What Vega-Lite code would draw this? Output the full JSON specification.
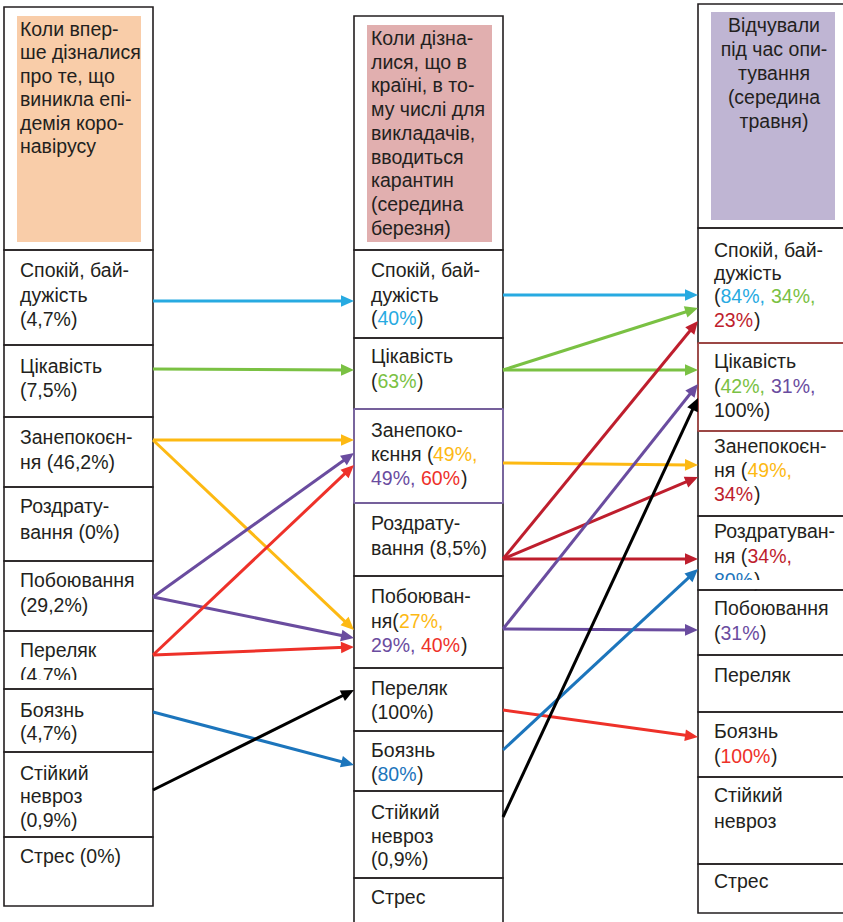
{
  "$schema": "https://vega.github.io/schema/vega-lite/v6.json",
  "width": 843,
  "height": 922,
  "padding": 0,
  "autosize": {"type": "none"},
  "background": "white",
  "config": {"view": {"stroke": null}, "axis": {"disable": true}, "legend": {"disable": true}},
  "datasets": {
    "boxes": [
      {"stage": "Вперше", "row": "header", "x": 4, "x2": 153, "y": 7, "y2": 250},
      {"stage": "Вперше", "row": "Спокій", "x": 4, "x2": 153, "y": 250, "y2": 345},
      {"stage": "Вперше", "row": "Цікавість", "x": 4, "x2": 153, "y": 345, "y2": 417},
      {"stage": "Вперше", "row": "Занепокоєння", "x": 4, "x2": 153, "y": 417, "y2": 487},
      {"stage": "Вперше", "row": "Роздратування", "x": 4, "x2": 153, "y": 487, "y2": 561},
      {"stage": "Вперше", "row": "Побоювання", "x": 4, "x2": 153, "y": 561, "y2": 631},
      {"stage": "Вперше", "row": "Переляк", "x": 4, "x2": 153, "y": 631, "y2": 689},
      {"stage": "Вперше", "row": "Боязнь", "x": 4, "x2": 153, "y": 689, "y2": 752},
      {"stage": "Вперше", "row": "Стійкий невроз", "x": 4, "x2": 153, "y": 752, "y2": 837},
      {"stage": "Вперше", "row": "Стрес", "x": 4, "x2": 153, "y": 837, "y2": 906},
      {"stage": "Березень", "row": "header", "x": 354, "x2": 503, "y": 16, "y2": 250},
      {"stage": "Березень", "row": "Спокій", "x": 354, "x2": 503, "y": 250, "y2": 338},
      {"stage": "Березень", "row": "Цікавість", "x": 354, "x2": 503, "y": 338, "y2": 409},
      {"stage": "Березень", "row": "Занепокоєння", "x": 354, "x2": 503, "y": 409, "y2": 503},
      {"stage": "Березень", "row": "Роздратування", "x": 354, "x2": 503, "y": 503, "y2": 576},
      {"stage": "Березень", "row": "Побоювання", "x": 354, "x2": 503, "y": 576, "y2": 668},
      {"stage": "Березень", "row": "Переляк", "x": 354, "x2": 503, "y": 668, "y2": 731},
      {"stage": "Березень", "row": "Боязнь", "x": 354, "x2": 503, "y": 731, "y2": 791},
      {"stage": "Березень", "row": "Стійкий невроз", "x": 354, "x2": 503, "y": 791, "y2": 878},
      {"stage": "Березень", "row": "Стрес", "x": 354, "x2": 503, "y": 878, "y2": 935},
      {"stage": "Травень", "row": "header", "x": 698, "x2": 860, "y": 4, "y2": 228},
      {"stage": "Травень", "row": "Спокій", "x": 698, "x2": 860, "y": 228, "y2": 343},
      {"stage": "Травень", "row": "Цікавість", "x": 698, "x2": 860, "y": 343, "y2": 431},
      {"stage": "Травень", "row": "Занепокоєння", "x": 698, "x2": 860, "y": 431, "y2": 516},
      {"stage": "Травень", "row": "Роздратування", "x": 698, "x2": 860, "y": 516, "y2": 590},
      {"stage": "Травень", "row": "Побоювання", "x": 698, "x2": 860, "y": 590, "y2": 655},
      {"stage": "Травень", "row": "Переляк", "x": 698, "x2": 860, "y": 655, "y2": 712},
      {"stage": "Травень", "row": "Боязнь", "x": 698, "x2": 860, "y": 712, "y2": 777},
      {"stage": "Травень", "row": "Стійкий невроз", "x": 698, "x2": 860, "y": 777, "y2": 864},
      {"stage": "Травень", "row": "Стрес", "x": 698, "x2": 860, "y": 864, "y2": 913}
    ],
    "headers": [
      {"stage": "Вперше", "x": 17, "x2": 141, "y": 16, "y2": 242},
      {"stage": "Березень", "x": 367, "x2": 492, "y": 25, "y2": 242},
      {"stage": "Травень", "x": 711, "x2": 835, "y": 12, "y2": 220}
    ],
    "highlights": [
      {"stage": "Березень", "row": "Занепокоєння", "x": 354, "x2": 503, "y": 409, "y2": 503},
      {"stage": "Травень", "row": "Цікавість", "x": 698, "x2": 860, "y": 343, "y2": 431}
    ],
    "masks": [
      {"stage": "Вперше", "row": "Переляк", "x": 7, "x2": 150, "y": 680, "y2": 688},
      {"stage": "Травень", "row": "Роздратування", "x": 701, "x2": 860, "y": 580, "y2": 589}
    ],
    "arrows": [
      {"src": "Спокій", "x": 153, "y": 301, "x2": 354, "y2": 301},
      {"src": "Цікавість", "x": 153, "y": 369, "x2": 354, "y2": 370},
      {"src": "Занепокоєння", "x": 153, "y": 440, "x2": 354, "y2": 440},
      {"src": "Занепокоєння", "x": 153, "y": 440, "x2": 354, "y2": 630},
      {"src": "Побоювання", "x": 153, "y": 597, "x2": 354, "y2": 453},
      {"src": "Побоювання", "x": 153, "y": 597, "x2": 354, "y2": 638},
      {"src": "Переляк", "x": 153, "y": 655, "x2": 354, "y2": 465},
      {"src": "Переляк", "x": 153, "y": 655, "x2": 354, "y2": 647},
      {"src": "Боязнь", "x": 153, "y": 712, "x2": 354, "y2": 765},
      {"src": "Стійкий невроз", "x": 153, "y": 790, "x2": 354, "y2": 690},
      {"src": "Спокій", "x": 503, "y": 295, "x2": 698, "y2": 295},
      {"src": "Цікавість", "x": 503, "y": 370, "x2": 698, "y2": 308},
      {"src": "Цікавість", "x": 503, "y": 370, "x2": 698, "y2": 370},
      {"src": "Занепокоєння", "x": 503, "y": 463, "x2": 698, "y2": 465},
      {"src": "Роздратування", "x": 503, "y": 559, "x2": 698, "y2": 321},
      {"src": "Роздратування", "x": 503, "y": 559, "x2": 698, "y2": 477},
      {"src": "Роздратування", "x": 503, "y": 559, "x2": 698, "y2": 559},
      {"src": "Побоювання", "x": 503, "y": 629, "x2": 698, "y2": 384},
      {"src": "Побоювання", "x": 503, "y": 629, "x2": 698, "y2": 630},
      {"src": "Переляк", "x": 503, "y": 710, "x2": 698, "y2": 737},
      {"src": "Боязнь", "x": 503, "y": 750, "x2": 698, "y2": 569},
      {"src": "Стійкий невроз", "x": 503, "y": 817, "x2": 698, "y2": 398}
    ],
    "texts": [
      {"part": "body", "x": 20, "y": 36, "t": "Коли впер-", "src": "text"},
      {"part": "body", "x": 20, "y": 59, "t": "ше дізналися", "src": "text"},
      {"part": "body", "x": 20, "y": 83, "t": "про те, що", "src": "text"},
      {"part": "body", "x": 20, "y": 106, "t": "виникла епі-", "src": "text"},
      {"part": "body", "x": 20, "y": 130, "t": "демія коро-", "src": "text"},
      {"part": "body", "x": 20, "y": 153, "t": "навірусу", "src": "text"},
      {"part": "body", "x": 20, "y": 277, "t": "Спокій, бай-", "src": "text"},
      {"part": "body", "x": 20, "y": 302, "t": "дужість", "src": "text"},
      {"part": "body", "x": 20, "y": 326, "t": "(4,7%)", "src": "text"},
      {"part": "body", "x": 20, "y": 373, "t": "Цікавість", "src": "text"},
      {"part": "body", "x": 20, "y": 397, "t": "(7,5%)", "src": "text"},
      {"part": "body", "x": 20, "y": 444, "t": "Занепокоєн-", "src": "text"},
      {"part": "body", "x": 20, "y": 469, "t": "ня (46,2%)", "src": "text"},
      {"part": "body", "x": 20, "y": 513, "t": "Роздрату-", "src": "text"},
      {"part": "body", "x": 20, "y": 539, "t": "вання (0%)", "src": "text"},
      {"part": "body", "x": 20, "y": 587, "t": "Побоювання", "src": "text"},
      {"part": "body", "x": 20, "y": 612, "t": "(29,2%)", "src": "text"},
      {"part": "body", "x": 20, "y": 657, "t": "Переляк", "src": "text"},
      {"part": "body", "x": 20, "y": 682, "t": "(4,7%)", "src": "text"},
      {"part": "body", "x": 20, "y": 717, "t": "Боязнь", "src": "text"},
      {"part": "body", "x": 20, "y": 740, "t": "(4,7%)", "src": "text"},
      {"part": "body", "x": 20, "y": 780, "t": "Стійкий", "src": "text"},
      {"part": "body", "x": 20, "y": 803, "t": "невроз", "src": "text"},
      {"part": "body", "x": 20, "y": 827, "t": "(0,9%)", "src": "text"},
      {"part": "body", "x": 20, "y": 863, "t": "Стрес (0%)", "src": "text"},

      {"part": "body", "x": 371, "y": 45, "t": "Коли дізна-", "src": "text"},
      {"part": "body", "x": 371, "y": 69, "t": "лися, що в", "src": "text"},
      {"part": "body", "x": 371, "y": 92, "t": "країні, в то-", "src": "text"},
      {"part": "body", "x": 371, "y": 116, "t": "му числі для", "src": "text"},
      {"part": "body", "x": 371, "y": 140, "t": "викладачів,", "src": "text"},
      {"part": "body", "x": 371, "y": 164, "t": "вводиться", "src": "text"},
      {"part": "body", "x": 371, "y": 187, "t": "карантин", "src": "text"},
      {"part": "body", "x": 371, "y": 211, "t": "(середина", "src": "text"},
      {"part": "body", "x": 371, "y": 235, "t": "березня)", "src": "text"},
      {"part": "body", "x": 371, "y": 277, "t": "Спокій, бай-", "src": "text"},
      {"part": "body", "x": 371, "y": 302, "t": "дужість", "src": "text"},
      {"part": "body", "x": 371, "y": 325, "t": "(", "src": "text"},
      {"part": "body", "x": 377.5, "y": 325, "t": "40%", "src": "Спокій"},
      {"part": "body", "x": 417, "y": 325, "t": ")", "src": "text"},
      {"part": "body", "x": 371, "y": 363, "t": "Цікавість", "src": "text"},
      {"part": "body", "x": 371, "y": 388, "t": "(", "src": "text"},
      {"part": "body", "x": 377.5, "y": 388, "t": "63%", "src": "Цікавість"},
      {"part": "body", "x": 417, "y": 388, "t": ")", "src": "text"},
      {"part": "body", "x": 371, "y": 437, "t": "Занепоко-", "src": "text"},
      {"part": "body", "x": 371, "y": 461, "t": "кєння (", "src": "text"},
      {"part": "body", "x": 433, "y": 461, "t": "49%,", "src": "Занепокоєння"},
      {"part": "body", "x": 371, "y": 485, "t": "49%,", "src": "Побоювання"},
      {"part": "body", "x": 421, "y": 485, "t": "60%", "src": "Переляк"},
      {"part": "body", "x": 461, "y": 485, "t": ")", "src": "text"},
      {"part": "body", "x": 371, "y": 530, "t": "Роздрату-", "src": "text"},
      {"part": "body", "x": 371, "y": 555, "t": "вання (8,5%)", "src": "text"},
      {"part": "body", "x": 371, "y": 603, "t": "Побоюван-", "src": "text"},
      {"part": "body", "x": 371, "y": 628, "t": "ня(", "src": "text"},
      {"part": "body", "x": 399, "y": 628, "t": "27%,", "src": "Занепокоєння"},
      {"part": "body", "x": 371, "y": 652, "t": "29%,", "src": "Побоювання"},
      {"part": "body", "x": 421, "y": 652, "t": "40%", "src": "Переляк"},
      {"part": "body", "x": 461, "y": 652, "t": ")", "src": "text"},
      {"part": "body", "x": 371, "y": 695, "t": "Переляк", "src": "text"},
      {"part": "body", "x": 371, "y": 719, "t": "(100%)", "src": "text"},
      {"part": "body", "x": 371, "y": 757, "t": "Боязнь", "src": "text"},
      {"part": "body", "x": 371, "y": 781, "t": "(", "src": "text"},
      {"part": "body", "x": 377.5, "y": 781, "t": "80%", "src": "Боязнь"},
      {"part": "body", "x": 417, "y": 781, "t": ")", "src": "text"},
      {"part": "body", "x": 371, "y": 819, "t": "Стійкий", "src": "text"},
      {"part": "body", "x": 371, "y": 843, "t": "невроз", "src": "text"},
      {"part": "body", "x": 371, "y": 866, "t": "(0,9%)", "src": "text"},
      {"part": "body", "x": 371, "y": 904, "t": "Стрес", "src": "text"},

      {"part": "title3", "x": 774, "y": 32, "t": "Відчували", "src": "text"},
      {"part": "title3", "x": 774, "y": 56, "t": "під час опи-", "src": "text"},
      {"part": "title3", "x": 774, "y": 80, "t": "тування", "src": "text"},
      {"part": "title3", "x": 774, "y": 104, "t": "\u00a0\u00a0(середина", "src": "text"},
      {"part": "title3", "x": 774, "y": 128, "t": "травня)", "src": "text"},
      {"part": "body", "x": 714, "y": 257, "t": "Спокій, бай-", "src": "text"},
      {"part": "body", "x": 714, "y": 280, "t": "дужість", "src": "text"},
      {"part": "body", "x": 714, "y": 303, "t": "(", "src": "text"},
      {"part": "body", "x": 720.5, "y": 303, "t": "84%,", "src": "Спокій"},
      {"part": "body", "x": 771, "y": 303, "t": "34%,", "src": "Цікавість"},
      {"part": "body", "x": 714, "y": 327, "t": "23%", "src": "Роздратування"},
      {"part": "body", "x": 754, "y": 327, "t": ")", "src": "text"},
      {"part": "body", "x": 714, "y": 368, "t": "Цікавість", "src": "text"},
      {"part": "body", "x": 714, "y": 393, "t": "(", "src": "text"},
      {"part": "body", "x": 720.5, "y": 393, "t": "42%,", "src": "Цікавість"},
      {"part": "body", "x": 771, "y": 393, "t": "31%,", "src": "Побоювання"},
      {"part": "body", "x": 714, "y": 417, "t": "100%)", "src": "text"},
      {"part": "body", "x": 714, "y": 453, "t": "Занепокоєн-", "src": "text"},
      {"part": "body", "x": 714, "y": 477, "t": "ня (", "src": "text"},
      {"part": "body", "x": 747.5, "y": 477, "t": "49%,", "src": "Занепокоєння"},
      {"part": "body", "x": 714, "y": 501, "t": "34%", "src": "Роздратування"},
      {"part": "body", "x": 754, "y": 501, "t": ")", "src": "text"},
      {"part": "body", "x": 714, "y": 538, "t": "Роздратуван-", "src": "text"},
      {"part": "body", "x": 714, "y": 563, "t": "ня (", "src": "text"},
      {"part": "body", "x": 747.5, "y": 563, "t": "34%,", "src": "Роздратування"},
      {"part": "body", "x": 714, "y": 587, "t": "80%", "src": "Боязнь"},
      {"part": "body", "x": 754, "y": 587, "t": ")", "src": "text"},
      {"part": "body", "x": 714, "y": 615, "t": "Побоювання", "src": "text"},
      {"part": "body", "x": 714, "y": 640, "t": "(", "src": "text"},
      {"part": "body", "x": 720.5, "y": 640, "t": "31%", "src": "Побоювання"},
      {"part": "body", "x": 760, "y": 640, "t": ")", "src": "text"},
      {"part": "body", "x": 714, "y": 682, "t": "Переляк", "src": "text"},
      {"part": "body", "x": 714, "y": 738, "t": "Боязнь", "src": "text"},
      {"part": "body", "x": 714, "y": 763, "t": "(", "src": "text"},
      {"part": "body", "x": 720.5, "y": 763, "t": "100%", "src": "Переляк"},
      {"part": "body", "x": 771, "y": 763, "t": ")", "src": "text"},
      {"part": "body", "x": 714, "y": 802, "t": "Стійкий", "src": "text"},
      {"part": "body", "x": 714, "y": 828, "t": "невроз", "src": "text"},
      {"part": "body", "x": 714, "y": 888, "t": "Стрес", "src": "text"}
    ]
  },
  "layer": [
    {
      "data": {"name": "boxes"},
      "mark": {"type": "rect", "fill": "white", "fillOpacity": 0, "stroke": "#231F20", "strokeWidth": 1.6},
      "encoding": {
        "x": {"field": "x", "type": "quantitative", "scale": {"domain": [0, 843], "nice": false, "zero": false}},
        "x2": {"field": "x2"},
        "y": {"field": "y", "type": "quantitative", "scale": {"domain": [0, 922], "reverse": true, "nice": false, "zero": false}},
        "y2": {"field": "y2"}
      }
    },
    {
      "data": {"name": "headers"},
      "mark": {"type": "rect", "strokeWidth": 0},
      "encoding": {
        "x": {"field": "x", "type": "quantitative"},
        "x2": {"field": "x2"},
        "y": {"field": "y", "type": "quantitative"},
        "y2": {"field": "y2"},
        "fill": {"field": "stage", "type": "nominal", "scale": {"domain": ["Вперше", "Березень", "Травень"], "range": ["#F9CDA9", "#E1AFAF", "#BFB5D3"]}}
      }
    },
    {
      "data": {"name": "highlights"},
      "mark": {"type": "rect", "fillOpacity": 0, "fill": "white", "strokeWidth": 1.4},
      "encoding": {
        "x": {"field": "x", "type": "quantitative"},
        "x2": {"field": "x2"},
        "y": {"field": "y", "type": "quantitative"},
        "y2": {"field": "y2"},
        "stroke": {"field": "stage", "type": "nominal", "scale": {"domain": ["Березень", "Травень"], "range": ["#8C72C0", "#C0504D"]}}
      }
    },
    {
      "data": {"name": "texts"},
      "transform": [{"filter": "datum.part === 'body'"}],
      "mark": {"type": "text", "align": "left", "baseline": "alphabetic", "font": "Liberation Sans", "fontSize": 19.5},
      "encoding": {
        "x": {"field": "x", "type": "quantitative"},
        "y": {"field": "y", "type": "quantitative"},
        "text": {"field": "t"},
        "color": {"field": "src", "type": "nominal", "scale": {"domain": ["text", "Спокій", "Цікавість", "Занепокоєння", "Роздратування", "Побоювання", "Переляк", "Боязнь", "Стійкий невроз"], "range": ["#231F20", "#27AAE1", "#7AC143", "#FDB913", "#BE1E2D", "#6A4C9F", "#EE3129", "#1C75BC", "#000000"]}}
      }
    },
    {
      "data": {"name": "texts"},
      "transform": [{"filter": "datum.part === 'title3'"}],
      "mark": {"type": "text", "align": "center", "baseline": "alphabetic", "font": "Liberation Sans", "fontSize": 19.5},
      "encoding": {
        "x": {"field": "x", "type": "quantitative"},
        "y": {"field": "y", "type": "quantitative"},
        "text": {"field": "t"},
        "color": {"field": "src", "type": "nominal"}
      }
    },
    {
      "data": {"name": "masks"},
      "mark": {"type": "rect", "fill": "white", "strokeWidth": 0},
      "encoding": {
        "x": {"field": "x", "type": "quantitative"},
        "x2": {"field": "x2"},
        "y": {"field": "y", "type": "quantitative"},
        "y2": {"field": "y2"}
      }
    },
    {
      "data": {"name": "arrows"},
      "transform": [
        {"calculate": "datum.x2 - datum.x", "as": "dx"},
        {"calculate": "datum.y2 - datum.y", "as": "dy"},
        {"calculate": "sqrt(datum.dx*datum.dx + datum.dy*datum.dy)", "as": "len"},
        {"calculate": "datum.x2 - 9*datum.dx/datum.len", "as": "xe"},
        {"calculate": "datum.y2 - 9*datum.dy/datum.len", "as": "ye"}
      ],
      "mark": {"type": "rule", "strokeWidth": 3, "strokeCap": "butt"},
      "encoding": {
        "x": {"field": "x", "type": "quantitative"},
        "y": {"field": "y", "type": "quantitative"},
        "x2": {"field": "xe"},
        "y2": {"field": "ye"},
        "color": {"field": "src", "type": "nominal"}
      }
    },
    {
      "data": {"name": "arrows"},
      "transform": [
        {"calculate": "atan2(datum.y2 - datum.y, datum.x2 - datum.x)*180/PI", "as": "ang"}
      ],
      "mark": {"type": "point", "shape": "M0,0L-2,-0.9L-2,0.9Z", "filled": true, "size": 169, "opacity": 1, "strokeWidth": 0},
      "encoding": {
        "x": {"field": "x2", "type": "quantitative"},
        "y": {"field": "y2", "type": "quantitative"},
        "angle": {"field": "ang", "type": "quantitative", "scale": null},
        "color": {"field": "src", "type": "nominal"}
      }
    }
  ]
}
